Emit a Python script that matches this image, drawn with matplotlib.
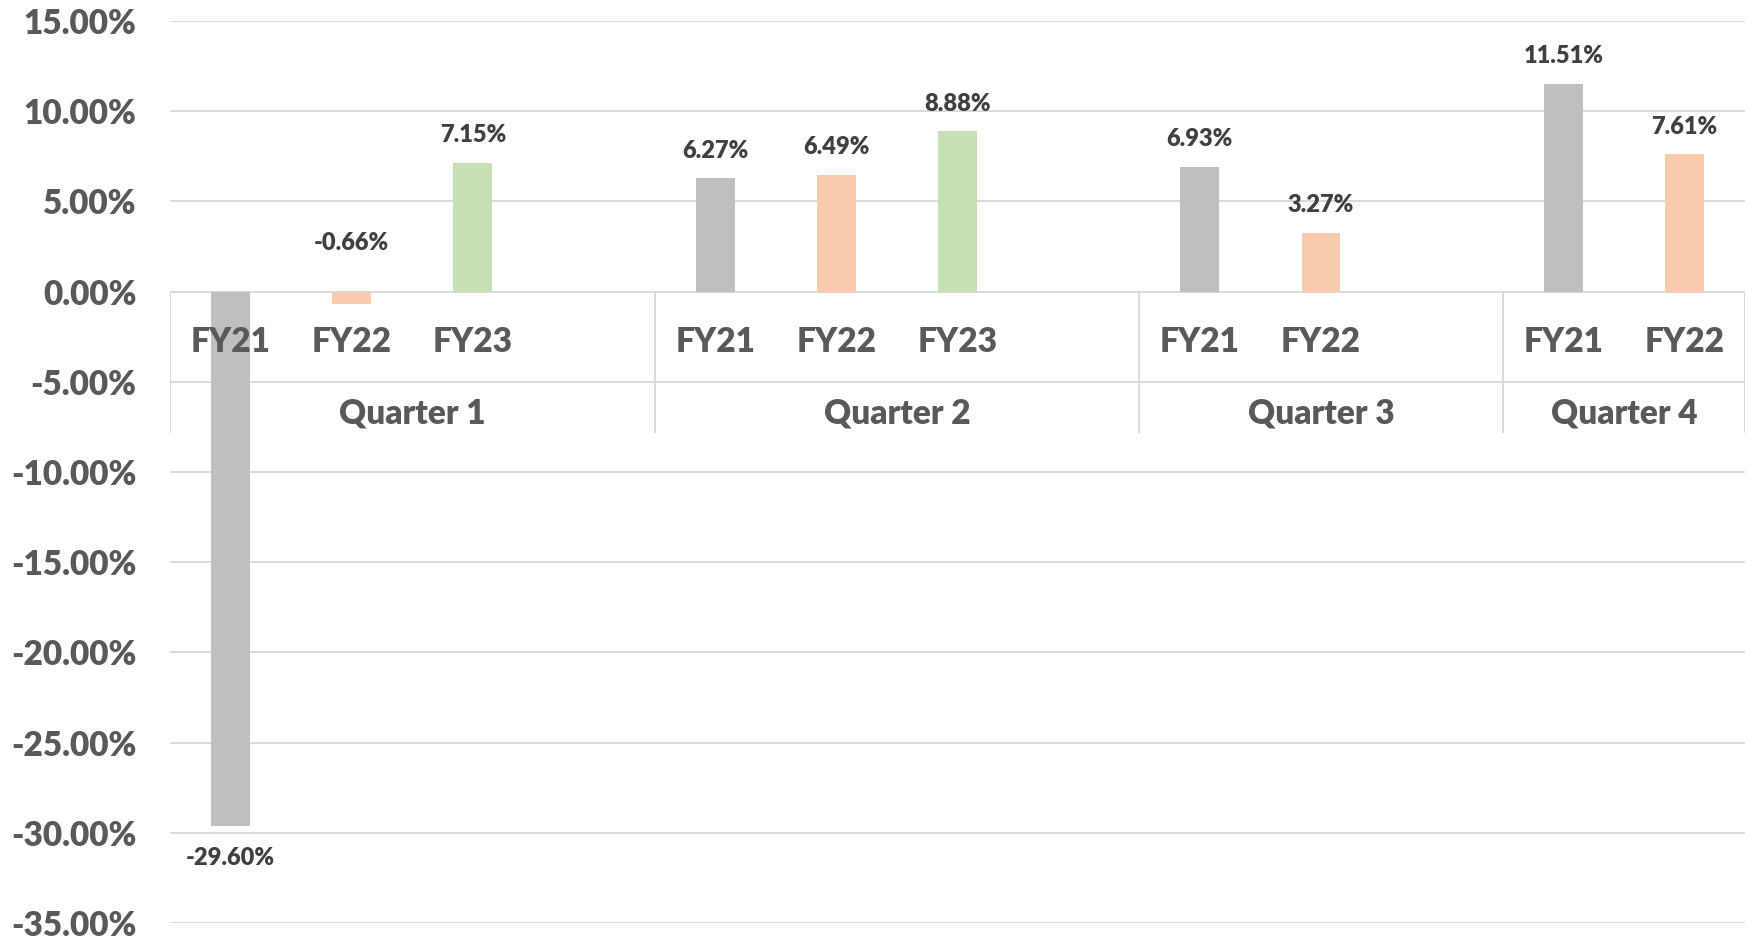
import matplotlib
matplotlib.use("Agg")
import matplotlib.pyplot as plt
from matplotlib.ticker import FuncFormatter, MultipleLocator

plt.rcParams['font.family'] = ['Lato', 'DejaVu Sans']
W = 800  # font weight

quarters = ["Quarter 1", "Quarter 2", "Quarter 3", "Quarter 4"]
years_per_quarter = [["FY21", "FY22", "FY23"],
                     ["FY21", "FY22", "FY23"],
                     ["FY21", "FY22"],
                     ["FY21", "FY22"]]
values = [[-29.60, -0.66, 7.15],
          [6.27, 6.49, 8.88],
          [6.93, 3.27],
          [11.51, 7.61]]
# number of category slots per quarter (includes Excel's blank slot)
slots_per_quarter = [4, 4, 3, 2]
year_colors = {"FY21": "#BFBFBF", "FY22": "#F8CBAD", "FY23": "#C5E0B4"}

fig = plt.figure(figsize=(17.52, 9.38), dpi=100)
ax = fig.add_axes([0.097, 0.016, 0.899, 0.9616])

total_slots = sum(slots_per_quarter)
ax.set_xlim(-0.5, total_slots - 0.5)
ax.set_ylim(-35, 15)
ax.yaxis.set_major_locator(MultipleLocator(5))
ax.yaxis.set_major_formatter(FuncFormatter(lambda v, p: f"{v:.2f}%"))
ax.grid(axis='y', color='#D9D9D9', linewidth=1.4, zorder=0)
ax.set_axisbelow(True)
for s in ax.spines.values():
    s.set_visible(False)
ax.tick_params(axis='y', length=0, pad=24, labelsize=24, labelcolor='#595959')
for t in ax.get_yticklabels():
    t.set_fontweight(W)
ax.set_xticks([])

line_kw = dict(color='#D9D9D9', linewidth=1.4, zorder=1)
fy_y, q_y, sep_bottom = -2.8, -6.75, -7.8
lab_kw = dict(ha='center', va='center', fontsize=17, fontweight=W,
              color='#404040', zorder=5, textcoords='offset points')

start = 0
ax.plot([-0.5, -0.5], [0, sep_bottom], **line_kw)
for q, yrs, vals, n in zip(quarters, years_per_quarter, values, slots_per_quarter):
    for i, (yr, v) in enumerate(zip(yrs, vals)):
        x = start + i
        ax.bar(x, v, width=0.32, color=year_colors[yr], zorder=3)
        ax.text(x, fy_y, yr, ha='center', va='center', fontsize=24,
                fontweight=W, color='#595959', zorder=4)
        if v >= 0:
            ax.annotate(f"{v:.2f}%", (x, v), xytext=(0, 20), **lab_kw)
        elif v > -2:
            ax.annotate(f"{v:.2f}%", (x, 0), xytext=(0, 35), **lab_kw)
        else:
            ax.annotate(f"{v:.2f}%", (x, v), xytext=(0, -23), **lab_kw)
    center = start + (n - 1) / 2
    ax.text(center, q_y, q, ha='center', va='center', fontsize=24,
            fontweight=W, color='#595959', zorder=4)
    end = start + n - 0.5
    ax.plot([end, end], [0, sep_bottom], **line_kw)
    start += n

fig.savefig("out.png", dpi=100)
